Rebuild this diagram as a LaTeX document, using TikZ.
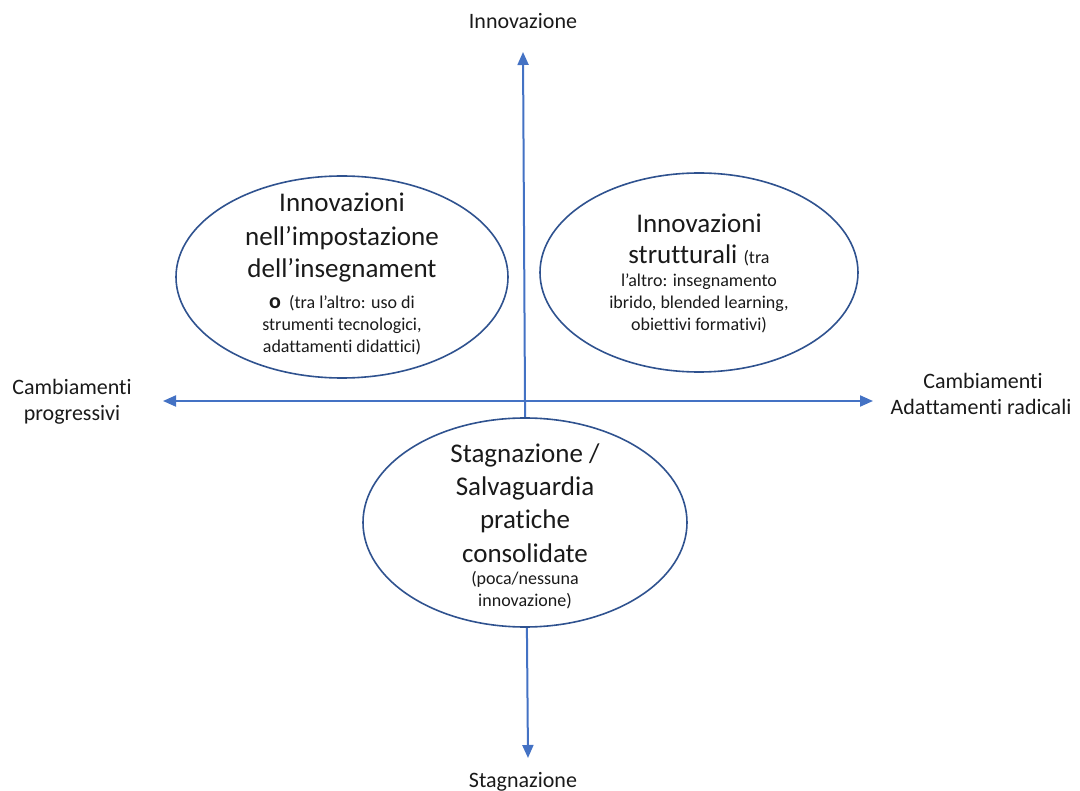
\documentclass[tikz,border=0pt]{standalone}
\usepackage{fontspec}
\setmainfont{Carlito}[Ligatures={NoCommon,NoRequired,NoContextual}]
\usetikzlibrary{shapes.geometric,arrows.meta}
\definecolor{axisblue}{HTML}{4472C4}
\definecolor{ringblue}{HTML}{2F528F}
\definecolor{txt}{HTML}{1A1A1A}
\tikzset{
  x=1pt,y=-1pt,
  axis/.style={draw=axisblue,line width=2pt,-{Triangle[length=13pt,width=11pt]}},
  ring/.style={ellipse,draw=ringblue,line width=1.6pt,fill=white,inner sep=0pt},
  big/.style={anchor=base,inner sep=0pt,text=txt,font=\fontsize{27}{33}\selectfont},
  small/.style={anchor=base,inner sep=0pt,text=txt,font=\fontsize{18}{22}\selectfont},
  lab/.style={anchor=base,inner sep=0pt,text=txt,font=\fontsize{22}{27}\selectfont},
}
\begin{document}
\begin{tikzpicture}
\useasboundingbox (0,0) rectangle (1080,791);
% axes
\coordinate (vtop) at (523,52);
\coordinate (vbot) at (528,758);
\coordinate (hleft) at (163,401);
\coordinate (hright) at (873,401);
\coordinate (c) at (525,401);
\draw[axis] (c) -- (vtop);
\draw[axis] (c) -- (vbot);
\draw[axis] (c) -- (hleft);
\draw[axis] (c) -- (hright);
% ellipses
\node[ring,minimum width=332pt,minimum height=202pt] (left) at (342,277) {};
\node[ring,minimum width=318pt,minimum height=199pt] (right) at (699,272.5) {};
\node[ring,minimum width=324pt,minimum height=209pt] (bottom) at (525,522.5) {};
% axis labels
\node[lab] (ltop) at (523,29) {Innovazione};
\node[lab] (lbot) at (523,787) {Stagnazione};
\node[lab] (lleft1) at (72,395) {Cambiamenti};
\node[lab] (lleft2) at (72,421) {progressivi};
\node[lab] (lright1) at (983,389) {Cambiamenti};
\node[lab] (lright2) at (981,415) {Adattamenti radicali};
% left ellipse text
\node[big] (a1) at (342,212) {Innovazioni};
\node[big] (a2) at (342,246) {nell’impostazione};
\node[big] (a3) at (342,278) {dell’insegnament};
\node[small] (a4) at (342,309) {{\fontsize{22}{22}\selectfont\bfseries o}\ \ (tra l’altro: uso di};
\node[small] (a5) at (342,331) {strumenti tecnologici,};
\node[small] (a6) at (342,353) {adattamenti didattici)};
% right ellipse text
\node[big] (b1) at (699,233) {Innovazioni};
\node[big] (b2) at (699,264) {strutturali {\fontsize{18}{22}\selectfont(tra}};
\node[small] (b3) at (699,287) {l’altro: insegnamento};
\node[small] (b4) at (699,309) {ibrido, blended learning,};
\node[small] (b5) at (699,331) {obiettivi formativi)};
% bottom ellipse text
\node[big] (d1) at (525,463) {Stagnazione /};
\node[big] (d2) at (525,496) {Salvaguardia};
\node[big] (d3) at (525,529) {pratiche};
\node[big] (d4) at (525,562) {consolidate};
\node[small] (d5) at (525,585) {(poca/nessuna};
\node[small] (d6) at (525,606) {innovazione)};
\end{tikzpicture}
\end{document}
